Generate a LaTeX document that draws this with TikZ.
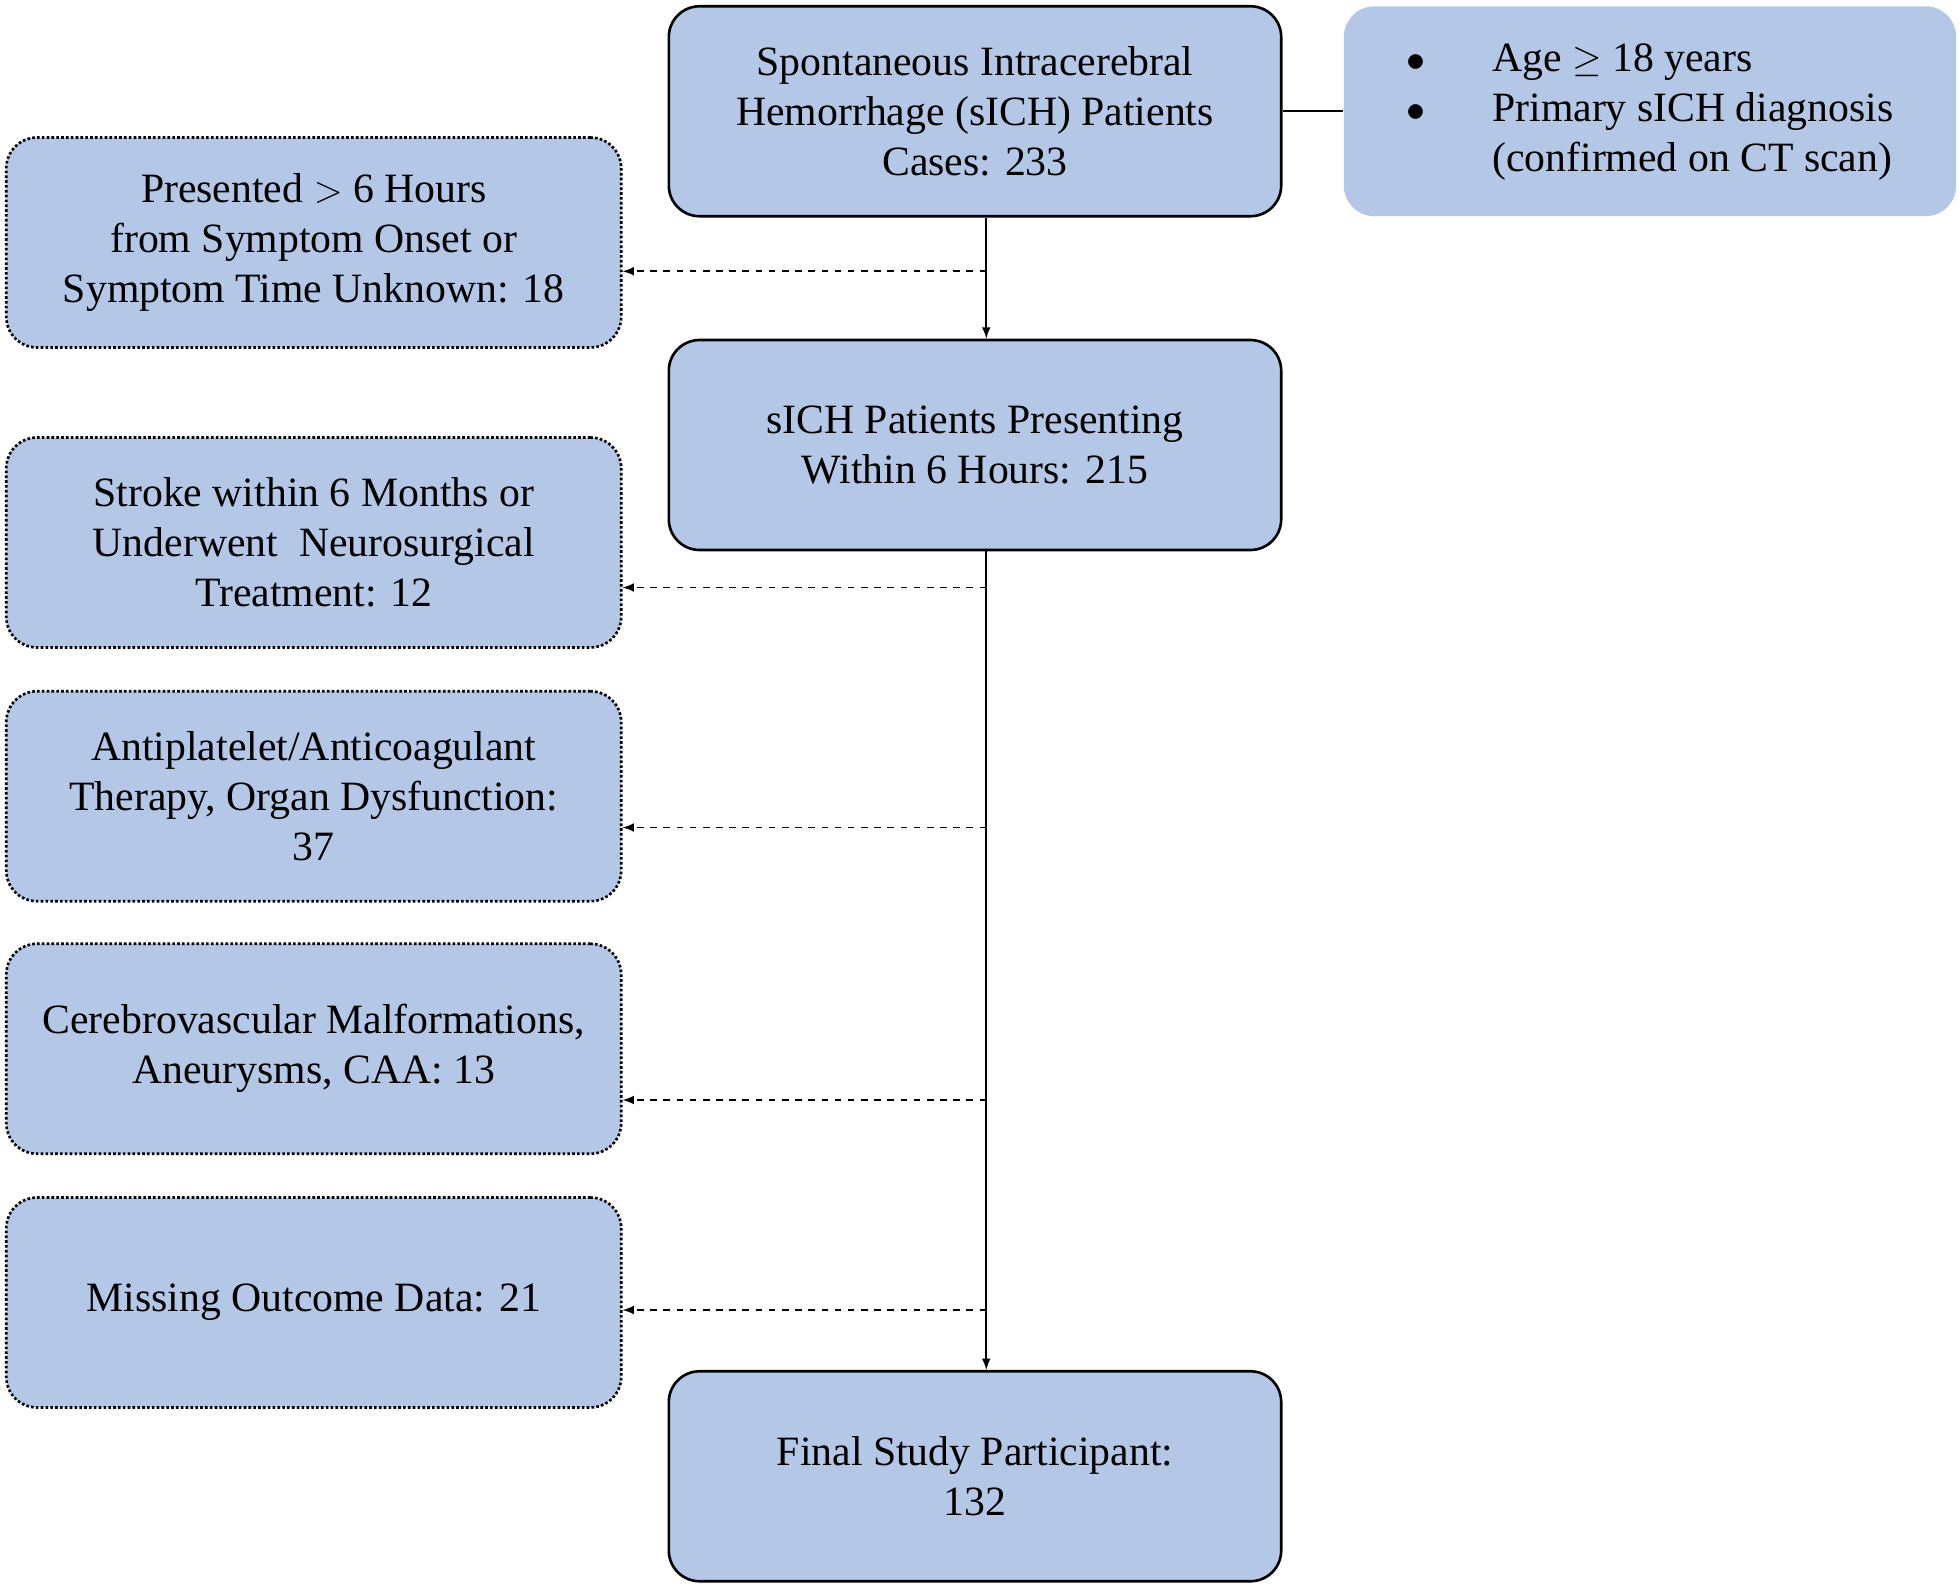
\documentclass[tikz,border=0pt]{standalone}
\usepackage{fontspec}
\setmainfont{Liberation Serif}
\usepackage{amssymb}
\usetikzlibrary{positioning}
\definecolor{boxblue}{HTML}{B4C7E7}
\tikzset{
  stage/.style={draw, very thick, fill=boxblue, rounded corners=14pt,
    minimum width=9.8cm, minimum height=3.36cm, align=center,
    font=\fontsize{19}{22.8}\selectfont},
  excl/.style={stage, densely dotted, minimum width=9.84cm},
  crit/.style={stage, draw=none},
  flow/.style={thick, -latex},
  skip/.style={thick, dashed, -latex}
}
\begin{document}
\begin{tikzpicture}[x=0.02cm, y=-0.02cm]
\useasboundingbox (0,0) rectangle (1568,1271);

%%%%%%%%%%%%%%%%%%%%%%%%%%%%
\node[stage] (all) at (780,89) {Spontaneous Intracerebral\\Hemorrhage (sICH) Patients\\Cases: 233};
\node[crit] (crit) at (1320,89) {\begin{tabular}{@{}l@{\hspace{1.6em}}l@{}}
  $\bullet$ & Age $\geq$ 18 years\\
  $\bullet$ & Primary sICH diagnosis\\
  & (confirmed on CT scan)\end{tabular}};
\node[stage] (early) at (780,356) {sICH Patients Presenting\\Within 6 Hours: 215};
\node[stage] (final) at (780,1181) {Final Study Participant:\\132};

%%%%%%%%%%%%%%%%%%%%%%%%%%%%
\node[excl] (late) at (251,194) {Presented $>$ 6 Hours\\from Symptom Onset or\\Symptom Time Unknown: 18};
\node[excl] (stroke) at (251,434) {Stroke within 6 Months or\\Underwent\ \ Neurosurgical\\Treatment: 12};
\node[excl] (drug) at (251,637) {Antiplatelet/Anticoagulant\\Therapy, Organ Dysfunction:\\37};
\node[excl] (vasc) at (251,839) {Cerebrovascular Malformations,\\Aneurysms, CAA: 13};
\node[excl] (miss) at (251,1042) {Missing Outcome Data: 21};

%%%%%%%%%%%%%%%%%%%%%%%%%%%%
\coordinate (b1) at (789,217);
\coordinate (b2) at (789,470);
\coordinate (b3) at (789,662);
\coordinate (b4) at (789,880);
\coordinate (b5) at (789,1048);

\draw[thick] (all) -- (crit);
\draw[flow] (all.south -| b1) -- (early.north -| b1);
\draw[flow] (early.south -| b2) -- (final.north -| b2);
\draw[skip] (b1) -- (b1 -| late.east);
\draw[skip] (b2) -- (b2 -| stroke.east);
\draw[skip] (b3) -- (b3 -| drug.east);
\draw[skip] (b4) -- (b4 -| vasc.east);
\draw[skip] (b5) -- (b5 -| miss.east);
\end{tikzpicture}
\end{document}
